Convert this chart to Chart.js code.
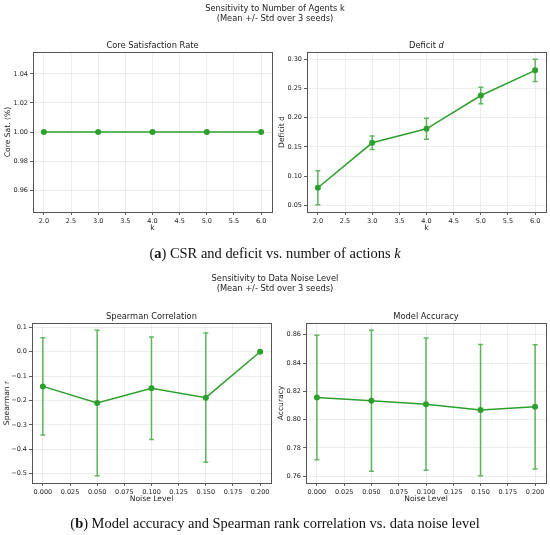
<!DOCTYPE html>
<html><head><meta charset="utf-8">
<script src="https://cdn.jsdelivr.net/npm/chart.js@4.4.0/dist/chart.umd.min.js"></script>
<style>
html,body{margin:0;padding:0;background:#fff;}
#wrap{position:relative;width:550px;height:535px;overflow:hidden;background:#fff;}
#wrap canvas{position:absolute;left:0;top:0;}
.t{position:absolute;font-family:"DejaVu Sans",sans-serif;color:#222;white-space:nowrap;transform:translate(-50%,-50%);line-height:1;font-size:8.3px;}
.cap{position:absolute;font-family:"Liberation Serif",serif;color:#111;white-space:nowrap;transform:translate(-50%,-50%);line-height:1;font-size:13.5px;}
</style></head><body>
<div id="wrap">
  <canvas id="c1" width="550" height="535"></canvas>
  <canvas id="c2" width="550" height="535"></canvas>
  <canvas id="c3" width="550" height="535"></canvas>
  <canvas id="c4" width="550" height="535"></canvas>
  <div class="t" style="left:275px;top:8px">Sensitivity to Number of Agents k</div>
  <div class="t" style="left:275px;top:18px">(Mean +/- Std over 3 seeds)</div>
  <div class="t" style="left:152.5px;top:45px">Core Satisfaction Rate</div>
  <div class="t" style="left:426.5px;top:45px">Deficit <i>d</i></div>
  <div class="cap" id="capA" style="left:275px;top:253px">(<b>a</b>) CSR and deficit vs. number of actions <i>k</i></div>
  <div class="t" style="left:275px;top:278px">Sensitivity to Data Noise Level</div>
  <div class="t" style="left:275px;top:288px">(Mean +/- Std over 3 seeds)</div>
  <div class="t" style="left:151.5px;top:316px">Spearman Correlation</div>
  <div class="t" style="left:426px;top:316px">Model Accuracy</div>
  <div class="cap" id="capB" style="left:275px;top:523px">(<b>b</b>) Model accuracy and Spearman rank correlation vs. data noise level</div>
</div>
<script>
// ---- data ----
const kValues = [2, 3, 4, 5, 6];
const coreSatMean = [1.0, 1.0, 1.0, 1.0, 1.0];
const coreSatStd = [0, 0, 0, 0, 0];
const deficitMean = [0.080, 0.157, 0.181, 0.238, 0.281];
const deficitStd = [0.029, 0.0115, 0.018, 0.0143, 0.019];
const noiseLevels = [0.0, 0.05, 0.10, 0.15, 0.20];
const spearmanMean = [-0.142, -0.210, -0.150, -0.188, 0.000];
const spearmanStd = [0.199, 0.298, 0.210, 0.265, 0.0];
const accuracyMean = [0.8157, 0.8134, 0.8110, 0.8068, 0.8091];
const accuracyStd = [0.0440, 0.0498, 0.0467, 0.0464, 0.0439];
const kTicks = [2.0, 2.5, 3.0, 3.5, 4.0, 4.5, 5.0, 5.5, 6.0];
const noiseTicks = [0.000, 0.025, 0.050, 0.075, 0.100, 0.125, 0.150, 0.175, 0.200];
const coreSatTicks = [0.96, 0.98, 1.00, 1.02, 1.04];
const deficitTicks = [0.05, 0.10, 0.15, 0.20, 0.25, 0.30];
const spearmanTicks = [-0.5, -0.4, -0.3, -0.2, -0.1, 0.0, 0.1];
const accuracyTicks = [0.76, 0.78, 0.80, 0.82, 0.84, 0.86];

// ---- styling ----
const GREEN = '#2ca02c';
const ERR = 'rgba(44,160,44,0.75)';
const W = 550, H = 535;
const FONT = '"DejaVu Sans", sans-serif';

// matplotlib-like autoscale with 5% margins
function autoRange(lo, hi) {
  if (hi - lo < 1e-12) { const e = Math.abs(lo) * 0.05 || 0.05; lo -= e; hi += e; }
  const m = (hi - lo) * 0.05;
  return [lo - m, hi + m];
}
function fmt(d) {
  return v => { const s = Number(v).toFixed(d); return s.startsWith('-') ? '\u2212' + s.slice(1) : s; };
}

const errorBarPlugin = {
  id: 'errbars',
  beforeDatasetsDraw(chart) {
    const ctx = chart.ctx, xs = chart.scales.x, ys = chart.scales.y;
    chart.data.datasets.forEach(ds => {
      if (!ds.errors) return;
      ctx.save();
      ctx.strokeStyle = ERR; ctx.lineWidth = 1.5;
      const cap = 2.5;
      ds.data.forEach((p, i) => {
        const e = ds.errors[i];
        if (!e) return;
        const px = xs.getPixelForValue(p.x);
        const y1 = ys.getPixelForValue(p.y - e), y2 = ys.getPixelForValue(p.y + e);
        ctx.beginPath();
        ctx.moveTo(px, y1); ctx.lineTo(px, y2);
        ctx.moveTo(px - cap, y1); ctx.lineTo(px + cap, y1);
        ctx.moveTo(px - cap, y2); ctx.lineTo(px + cap, y2);
        ctx.stroke();
      });
      ctx.restore();
    });
  }
};
const framePlugin = {
  id: 'frame',
  afterDatasetsDraw(chart) {
    const a = chart.chartArea, ctx = chart.ctx;
    ctx.save();
    ctx.strokeStyle = '#555'; ctx.lineWidth = 1;
    ctx.strokeRect(Math.round(a.left) + 0.5, Math.round(a.top) + 0.5, Math.round(a.right - a.left), Math.round(a.bottom - a.top));
    ctx.restore();
  }
};

function makeChart(id, rect, xs, ys, es, xTicks, yTicks, xDec, yDec, xTitle, yTitle) {
  const yw = 29.5, xh = 21;
  const xr = autoRange(Math.min(...xs), Math.max(...xs));
  const yr = autoRange(Math.min(...ys.map((v, i) => v - es[i])), Math.max(...ys.map((v, i) => v + es[i])));
  const tickFont = { family: FONT, size: 6.5 };
  const titleFont = { family: FONT, size: 7.6 };
  const grid = { color: '#e8e8e8', lineWidth: 0.8, tickColor: '#333', tickLength: 3, tickWidth: 0.8 };
  new Chart(document.getElementById(id), {
    type: 'line',
    data: { datasets: [{
      data: xs.map((x, i) => ({ x: x, y: ys[i] })),
      errors: es,
      borderColor: GREEN, backgroundColor: GREEN,
      borderWidth: 1.5, pointRadius: 3, pointHoverRadius: 3, pointBorderWidth: 0,
      tension: 0, clip: false
    }]},
    options: {
      responsive: false, animation: false, events: [],
      layout: { padding: { left: rect.L - yw, right: W - rect.R, top: rect.T, bottom: H - rect.B - xh } },
      plugins: { legend: { display: false }, tooltip: { enabled: false }, title: { display: false } },
      scales: {
        x: {
          type: 'linear', min: xr[0], max: xr[1],
          afterBuildTicks: s => { s.ticks = xTicks.map(v => ({ value: v })); },
          afterFit: s => { s.height = xh; },
          ticks: { callback: fmt(xDec), font: tickFont, color: '#222', padding: 2, maxRotation: 0, autoSkip: false },
          grid: grid, border: { display: false },
          title: { display: true, text: xTitle, font: titleFont, color: '#222', padding: 0 }
        },
        y: {
          type: 'linear', min: yr[0], max: yr[1],
          afterBuildTicks: s => { s.ticks = yTicks.map(v => ({ value: v })); },
          afterFit: s => { s.width = yw; },
          ticks: { callback: fmt(yDec), font: tickFont, color: '#222', padding: 2, autoSkip: false },
          grid: grid, border: { display: false },
          title: { display: true, text: yTitle, font: titleFont, color: '#222', padding: 0 }
        }
      }
    },
    plugins: [errorBarPlugin, framePlugin]
  });
}

makeChart('c1', { L: 33, R: 272, T: 52, B: 212 }, kValues, coreSatMean, coreSatStd, kTicks, coreSatTicks, 1, 2, 'k', 'Core Sat. (%)');
makeChart('c2', { L: 307, R: 546, T: 52, B: 212 }, kValues, deficitMean, deficitStd, kTicks, deficitTicks, 1, 2, 'k', 'Deficit d');
makeChart('c3', { L: 32, R: 271, T: 323, B: 483 }, noiseLevels, spearmanMean, spearmanStd, noiseTicks, spearmanTicks, 3, 1, 'Noise Level', 'Spearman r');
makeChart('c4', { L: 306, R: 546, T: 323, B: 483 }, noiseLevels, accuracyMean, accuracyStd, noiseTicks, accuracyTicks, 3, 2, 'Noise Level', 'Accuracy');

// fit caption font size to the reference caption widths
(function () {
  const b = document.getElementById('capB'), a = document.getElementById('capA');
  const target = 410;
  const w = b.getBoundingClientRect().width;
  const size = 13.5 * target / w;
  b.style.fontSize = size + 'px';
  a.style.fontSize = size + 'px';
})();
</script>
</body></html>
